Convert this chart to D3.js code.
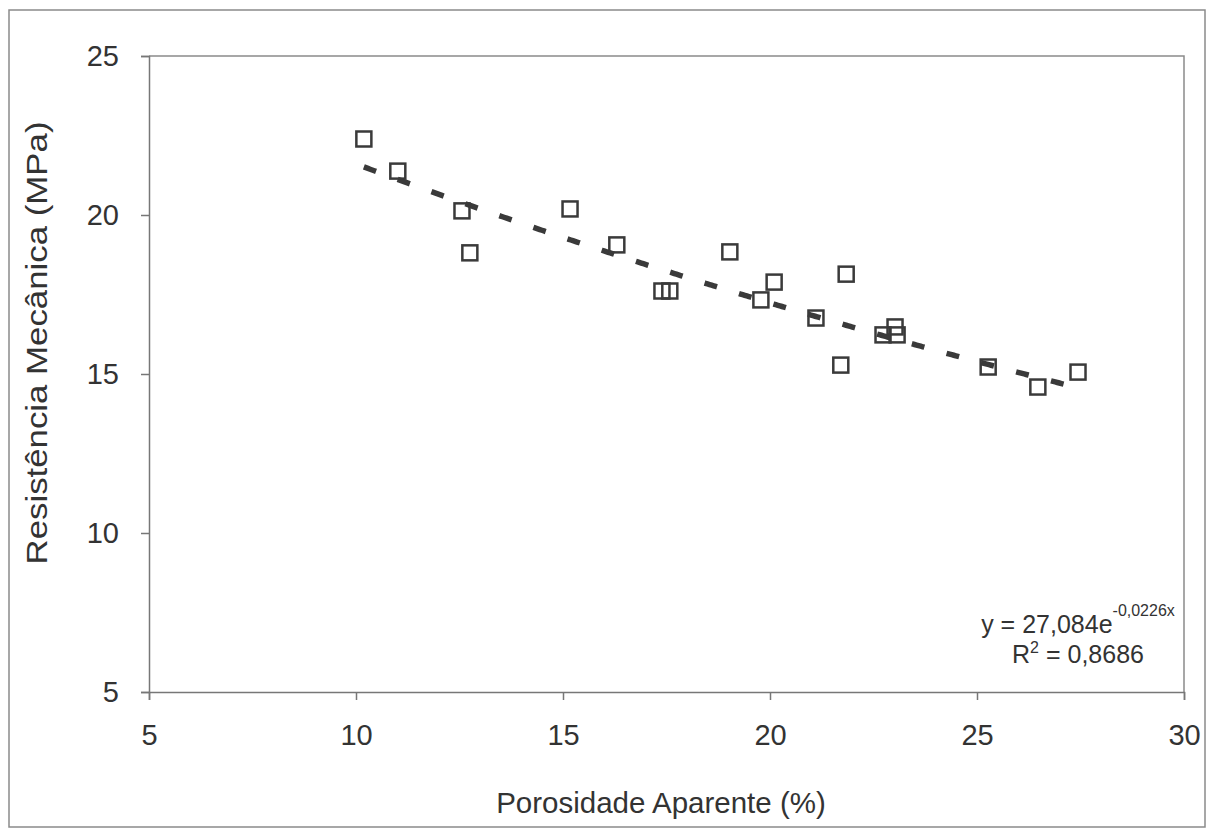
<!DOCTYPE html>
<html>
<head>
<meta charset="utf-8">
<script src="https://cdn.jsdelivr.net/npm/d3@7"></script>
<style>
  body { margin: 0; background: #fff; }
  svg text { font-family: Arial, "Liberation Sans", sans-serif; fill: #333; }
</style>
</head>
<body>
<svg width="1219" height="830"></svg>
<script>
// valores
const porosidade = [10.19, 11.01, 12.56, 12.75, 15.17, 16.30, 17.39, 17.58, 19.03, 19.78,
                    20.10, 21.11, 21.84, 21.71, 22.73, 23.02, 23.07, 25.27, 26.47, 27.44];
const resistencia = [22.39, 21.38, 20.13, 18.81, 20.19, 19.06, 17.61, 17.61, 18.84, 17.33,
                     17.89, 16.76, 18.14, 15.28, 16.23, 16.48, 16.23, 15.22, 14.59, 15.06];
const xTicks = [5, 10, 15, 20, 25, 30];
const yTicks = [5, 10, 15, 20, 25];
const trendCoef = [27.084, -0.0226]; // y = a * e^(b x)

const svg = d3.select('svg');

const data = porosidade.map((p, i) => ({x: p, y: resistencia[i]}));

const xScale = d3.scaleLinear().domain([5, 30]).range([149, 1184]);
const yScale = d3.scaleLinear().domain([5, 25]).range([692, 56]);

// moldura externa
svg.append('rect')
  .attr('x', 9).attr('y', 10)
  .attr('width', 1196).attr('height', 817)
  .attr('fill', 'none')
  .attr('stroke', '#8a8a8a')
  .attr('stroke-width', 1.5);

// borda da area de plotagem (topo e direita)
svg.append('path')
  .attr('d', `M${xScale(5)},${yScale(25)}H${xScale(30)}V${yScale(5)}`)
  .attr('fill', 'none')
  .attr('stroke', '#8a8a8a')
  .attr('stroke-width', 1.5);

const xAxis = svg.append('g')
  .attr('transform', `translate(0,${yScale(5)})`)
  .call(d3.axisBottom(xScale).tickValues(xTicks).tickSize(8).tickPadding(24));

const yAxis = svg.append('g')
  .attr('transform', `translate(${xScale(5)},0)`)
  .call(d3.axisLeft(yScale).tickValues(yTicks).tickSize(8).tickPadding(22));

[xAxis, yAxis].forEach(a => {
  a.select('.domain').attr('stroke', '#777').attr('stroke-width', 1.5);
  a.selectAll('.tick line').attr('stroke', '#777').attr('stroke-width', 1.5);
  a.selectAll('.tick text')
    .attr('font-size', 29)
    .attr('fill', '#333')
    .style('font-family', 'Arial, "Liberation Sans", sans-serif');
});
xAxis.selectAll('.tick text').attr('dy', '0.71em');

// linha de tendencia exponencial (equacao do grafico)
const [xmin, xmax] = d3.extent(porosidade);
const trend = d3.range(xmin, xmax, 0.05).concat([xmax])
  .map(x => ({x: x, y: trendCoef[0] * Math.exp(trendCoef[1] * x)}));

svg.append('path')
  .datum(trend)
  .attr('fill', 'none')
  .attr('stroke', '#3a3a3a')
  .attr('stroke-width', 5.5)
  .attr('stroke-dasharray', '13 23')
  .attr('d', d3.line().x(d => xScale(d.x)).y(d => yScale(d.y)));

// pontos
const s = 15;
svg.append('g').selectAll('rect').data(data)
  .enter().append('rect')
    .attr('x', d => xScale(d.x) - s / 2)
    .attr('y', d => yScale(d.y) - s / 2)
    .attr('width', s)
    .attr('height', s)
    .attr('fill', 'none')
    .attr('stroke', '#3a3a3a')
    .attr('stroke-width', 2.5);

// titulos dos eixos
svg.append('text')
  .attr('x', 661).attr('y', 813)
  .attr('text-anchor', 'middle')
  .attr('font-size', 29.5)
  .text('Porosidade Aparente (%)');

svg.append('text')
  .attr('transform', 'translate(47,343) rotate(-90)')
  .attr('text-anchor', 'middle')
  .attr('font-size', 30)
  .attr('textLength', 443)
  .attr('lengthAdjust', 'spacingAndGlyphs')
  .text('Resistência Mecânica (MPa)');

// equacao
const eq = svg.append('text')
  .attr('x', 1078).attr('y', 633)
  .attr('text-anchor', 'middle')
  .attr('font-size', 25);
eq.append('tspan').text('y = 27,084e');
eq.append('tspan').attr('font-size', 16).attr('dy', -17).text('-0,0226x');

const r2 = svg.append('text')
  .attr('x', 1078).attr('y', 663)
  .attr('text-anchor', 'middle')
  .attr('font-size', 25);
r2.append('tspan').text('R');
r2.append('tspan').attr('font-size', 16).attr('dy', -10).text('2');
r2.append('tspan').attr('dy', 10).text(' = 0,8686');
</script>
</body>
</html>
